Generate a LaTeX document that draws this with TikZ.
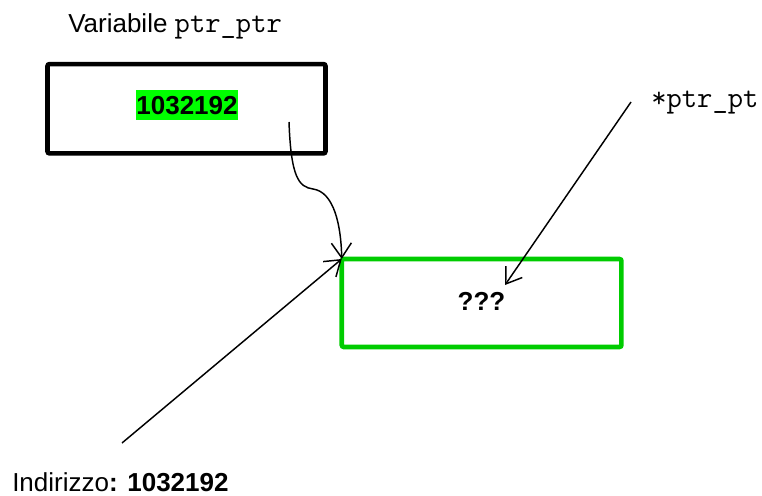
\documentclass[tikz,border=0pt]{standalone}
\usepackage{fontspec}
\setmainfont{Liberation Sans}
\usetikzlibrary{arrows.meta}
\definecolor{cellgreen}{RGB}{0,204,0}
\definecolor{hlgreen}{RGB}{0,255,0}
% typewriter text, enlarged to a Courier-like advance
\newcommand{\codetext}[1]{{\fontsize{22.3pt}{23pt}\ttfamily #1}}
\tikzset{
  txt/.style={inner sep=0pt, font=\fontsize{19.5pt}{23pt}\selectfont},
  varbox/.style={draw=black, line width=3.4pt, rounded corners=1.5pt, outer sep=0pt,
                 minimum width=208.5pt, minimum height=67pt},
  cellbox/.style={draw=cellgreen, line width=3.4pt, rounded corners=1.5pt, outer sep=0pt,
                  minimum width=209.8pt, minimum height=66pt},
  hl/.style={txt, fill=hlgreen, inner xsep=0.5pt, inner ysep=4pt,
             text height=14pt, text depth=0pt, font=\fontsize{19.5pt}{23pt}\selectfont\bfseries},
  conn/.style={line width=1.1pt, -{Straight Barb[length=11pt,width=15pt]}}
}
\begin{document}
\begin{tikzpicture}[x=0.75pt,y=-0.75pt]
  \useasboundingbox (0,0) rectangle (762,495);

  % labels
  \node[txt, anchor=base west] (varlabel) at (68,33) {Variabile \codetext{ptr\_ptr}};
  \node[txt, anchor=base west] (deref) at (651,108) {\codetext{*ptr\_pt}};
  \node[txt, anchor=base west] (addr) at (12,491) {Indirizzo\textbf{: 1032192}};

  % the two memory cells
  \node[varbox] (var) at (186.5,108.75) {};
  \node[hl, anchor=base] (val) at (187,114.3) {1032192};
  \node[cellbox] (cell) at (481.6,303) {};
  \node[txt, anchor=base, font=\fontsize{19.5pt}{23pt}\selectfont\bfseries] (unk) at (481.5,310) {???};

  % connector end points
  \coordinate (vstart) at (289,122);
  \coordinate (bend) at (313,189);
  \coordinate (astart) at (122,443);
  \coordinate (dstart) at (631,102);
  \coordinate (dend) at (505,285);

  % connectors
  \draw[conn] (vstart) .. controls (291,178) and (299,187) .. (bend)
              .. controls (334,192) and (341,225) .. (cell.north west);
  \draw[conn] (astart) -- (cell.north west);
  \draw[conn] (dstart) -- (dend);
\end{tikzpicture}
\end{document}
